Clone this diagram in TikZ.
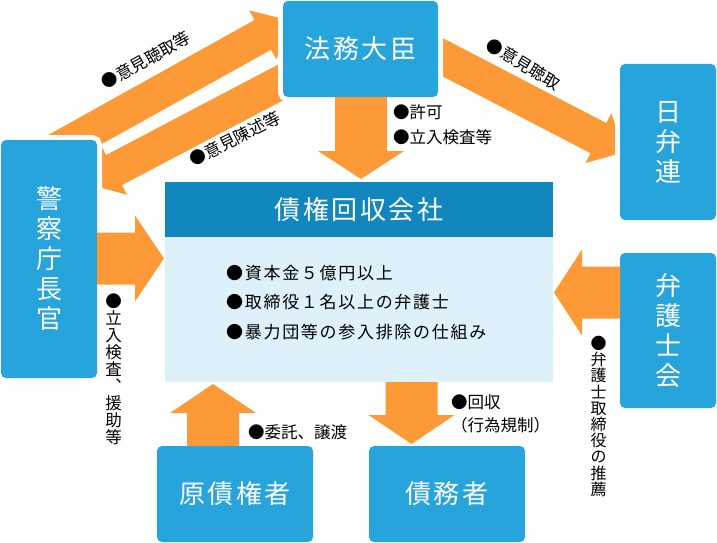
\documentclass[tikz,border=0pt]{standalone}
\usepackage{fontspec}
\setmainfont{Noto Sans CJK JP}
\newfontfamily\jpwide[LetterSpace=10]{Noto Sans CJK JP}
\usetikzlibrary{calc}
\definecolor{boxblue}{HTML}{28A4DD}
\definecolor{headblue}{HTML}{1187BE}
\definecolor{lightblue}{HTML}{DEF1FA}
\definecolor{arrorange}{HTML}{FD9A37}
% #1 start, #2 tip, #3 shaft half width, #4 head half width, #5 head length
\newcommand\blockarrow[5]{%
  \coordinate (ba-b) at ($(#2)!#5!(#1)$);
  \fill[arrorange] ($(#1)!#3!90:(#2)$) -- ($(ba-b)!#3!90:(#2)$) -- ($(ba-b)!#4!90:(#2)$) -- (#2)
    -- ($(ba-b)!#4!-90:(#2)$) -- ($(ba-b)!#3!-90:(#2)$) -- ($(#1)!#3!-90:(#2)$) -- cycle;}
\tikzset{
  bluebox/.style={rectangle, rounded corners=5pt, fill=boxblue, text=white, inner sep=0pt,
    align=center, preaction={draw=white, line width=10pt}},
  bigh/.style={font=\jpwide\fontsize{26}{30}\selectfont},
  bigv/.style={font=\fontsize{26}{30}\selectfont},
  lbl/.style={inner sep=0pt, text=black, font=\fontsize{16.5}{20}\selectfont},
  listtext/.style={inner sep=0pt, text=black, anchor=west, font=\jpwide\fontsize{17}{20}\selectfont},
  vlbl/.style={inner sep=0pt, text=black, align=center},
}
\begin{document}
\begin{tikzpicture}[x=1pt,y=-1pt]
\useasboundingbox (0,0) rectangle (717,543);
% diagonal arrows (under the boxes)
\coordinate (a1s) at (40,159);   \coordinate (a1t) at (289,20.3);
\coordinate (a2s) at (300,72.3); \coordinate (a2t) at (87.5,184);
\coordinate (a3s) at (400,35);   \coordinate (a3t) at (625,152);
\blockarrow{a1s}{a1t}{17pt}{28pt}{30pt}
\blockarrow{a2s}{a2t}{17pt}{28pt}{30pt}
\blockarrow{a3s}{a3t}{17pt}{28pt}{30pt}
% boxes
\node[bluebox, bigh, minimum width=155pt, minimum height=96pt] (minister) at (360.5,49) {法務大臣};
\node[bluebox, bigv, minimum width=96pt, minimum height=156pt] (nichi) at (668,142) {日\\弁\\連};
\node[bluebox, bigv, minimum width=96pt, minimum height=155pt] (bengo) at (668,330.5) {弁\\護\\士\\会};
\node[bluebox, bigv, minimum width=96pt, minimum height=238pt] (police) at (49,259) {警\\察\\庁\\長\\官};
\node[bluebox, bigh, minimum width=156pt, minimum height=96pt] (orig) at (235,494) {原債権者};
\node[bluebox, bigh, minimum width=156pt, minimum height=96pt] (debtor) at (447,494) {債務者};
\node[fill=lightblue, minimum width=388pt, minimum height=145pt, inner sep=0pt] (body) at (359,309.5) {};
\node[fill=headblue, minimum width=388pt, minimum height=55pt, inner sep=0pt, text=white, bigh] (head) at (359,209.5) {債権回収会社};
\node[listtext] (l1) at (226,273) {●資本金５億円以上};
\node[listtext] (l2) at (226,302) {●取締役１名以上の弁護士};
\node[listtext] (l3) at (226,332) {●暴力団等の参入排除の仕組み};
% straight arrows
\coordinate (m1) at (361,97);    \coordinate (m2) at (361,179);
\coordinate (p1) at (97,258.5);  \coordinate (p2) at (164,258.5);
\coordinate (b1) at (620,292.5); \coordinate (b2) at (554,292.5);
\coordinate (g1) at (213,446);   \coordinate (g2) at (213,384);
\coordinate (c1) at (411.5,382); \coordinate (c2) at (411.5,444);
\blockarrow{m1}{m2}{26pt}{43pt}{28pt}
\blockarrow{p1}{p2}{26pt}{43pt}{29pt}
\blockarrow{b1}{b2}{26pt}{43pt}{28pt}
\blockarrow{g1}{g2}{26pt}{43pt}{29pt}
\blockarrow{c1}{c2}{26pt}{43pt}{29pt}
% labels
\node[lbl, anchor=west] (lk) at (393,112) {●許可};
\node[lbl, anchor=west] (lt) at (393,137) {●立入検査等};
\node[lbl, rotate=29.4] (d1) at (146,60) {●意見聴取等};
\node[lbl, rotate=27] (d2) at (235,138.5) {●意見陳述等};
\node[lbl, rotate=-31] (d3) at (523.5,64) {●意見聴取};
\node[vlbl, font=\fontsize{16.5}{17}\selectfont] (v1) at (113.5,369) {●\\立\\入\\検\\査\\︑\\援\\助\\等};
\node[vlbl, font=\fontsize{16}{16.2}\selectfont] (v2) at (598.5,416.5) {●\\弁\\護\\士\\取\\締\\役\\の\\推\\薦};
\node[lbl, anchor=west] (lw) at (248,432) {●委託、譲渡};
\node[lbl, anchor=west] (lr) at (451,402) {●回収};
\node[lbl, anchor=west] (lr2) at (451,425) {（行為規制）};
\end{tikzpicture}
\end{document}
